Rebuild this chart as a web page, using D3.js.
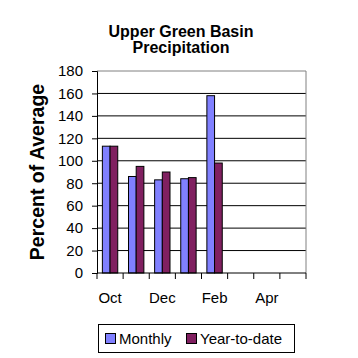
<!DOCTYPE html>
<html>
<head>
<meta charset="utf-8">
<script src="https://cdn.jsdelivr.net/npm/d3@7"></script>
<style>
  body { margin: 0; background: #fff; }
  svg { display: block; font-family: "Liberation Sans", Arial, sans-serif; }
</style>
</head>
<body>
<svg></svg>
<script>
const months = ['Oct', 'Nov', 'Dec', 'Jan', 'Feb', 'Mar', 'Apr', 'May']
const shownLabels = ['Oct', 'Dec', 'Feb', 'Apr']
const seriesNames = ['Monthly', 'Year-to-date']
const monthly = [113, 86, 83, 84, 158, null, null, null]
const ytd = [113, 95, 90, 85, 98, null, null, null]
const yTicks = [0, 20, 40, 60, 80, 100, 120, 140, 160, 180]
const colors = ['#8080ff', '#802060']

const w = 358
const h = 358
const plotLeft = 97
const plotRight = 306
const plotTop = 71
const plotBottom = 273

let svg = d3.select('svg').attr('width', w).attr('height', h)

let x0 = d3.scaleBand().domain(months).range([plotLeft, plotRight]).padding(0)
let x1 = d3.scaleBand().domain(seriesNames).range([0, x0.bandwidth()]).paddingInner(0).paddingOuter(0.7)
let y = d3.scaleLinear().domain([0, 180]).range([plotBottom, plotTop])

// gridlines
svg.append('g')
   .selectAll('line')
   .data(yTicks.filter(d => d > 0 && d < 180))
   .enter()
   .append('line')
   .attr('x1', plotLeft).attr('x2', plotRight)
   .attr('y1', d => y(d)).attr('y2', d => y(d))
   .attr('stroke', '#000')

// plot border (top and right)
svg.append('path')
   .attr('d', `M${plotLeft},${y(180)}H${plotRight}V${plotBottom}`)
   .attr('fill', 'none')
   .attr('stroke', '#808080')

// bars
let rows = months.map((m, i) => ({ month: m, values: [monthly[i], ytd[i]] }))
let groups = svg.append('g')
   .selectAll('g')
   .data(rows)
   .enter()
   .append('g')
   .attr('transform', d => 'translate(' + x0(d.month) + ',0)')

groups.selectAll('rect')
   .data(d => d.values.map((v, i) => ({ name: seriesNames[i], value: v, i: i })).filter(d => d.value != null))
   .enter()
   .append('rect')
   .attr('x', d => x1(d.name))
   .attr('width', x1.bandwidth())
   .attr('y', d => y(d.value))
   .attr('height', d => y(0) - y(d.value))
   .attr('fill', d => colors[d.i])
   .attr('stroke', '#000')
   .attr('stroke-width', 1)

// y axis
let yAxis = d3.axisLeft(y).tickValues(yTicks).tickSize(5).tickPadding(9)
let gy = svg.append('g')
   .attr('transform', 'translate(' + plotLeft + ',0)')
   .call(yAxis)
gy.select('.domain').attr('stroke', '#000')
gy.selectAll('text').style('font-size', '15px').attr('fill', '#000')

// x axis line and ticks at band edges
let edges = months.map(m => x0(m)).concat([x0.range()[1]])
let gx = svg.append('g')
gx.append('line')
  .attr('x1', plotLeft).attr('x2', plotRight)
  .attr('y1', plotBottom).attr('y2', plotBottom)
  .attr('stroke', '#000')
gx.selectAll('.tick')
  .data(edges)
  .enter()
  .append('line')
  .attr('x1', d => d).attr('x2', d => d)
  .attr('y1', plotBottom).attr('y2', plotBottom + 6)
  .attr('stroke', '#000')
gx.selectAll('text')
  .data(shownLabels)
  .enter()
  .append('text')
  .attr('x', d => x0(d) + x0.bandwidth() / 2)
  .attr('y', 303)
  .attr('text-anchor', 'middle')
  .style('font-size', '15px')
  .text(d => d)

// title
let title = svg.append('text')
   .attr('text-anchor', 'middle')
   .style('font-size', '16px')
   .style('font-weight', 'bold')
title.append('tspan').attr('x', 181).attr('y', 37).text('Upper Green Basin')
title.append('tspan').attr('x', 181).attr('y', 53).text('Precipitation')

// y label
svg.append('text')
   .attr('transform', 'translate(44,' + ((plotTop + plotBottom) / 2) + ') rotate(-90)')
   .attr('text-anchor', 'middle')
   .style('font-size', '19.5px')
   .style('font-weight', 'bold')
   .text('Percent of Average')

// legend
let legend = svg.append('g')
legend.append('rect')
   .attr('x', 98.5).attr('y', 324.5)
   .attr('width', 196).attr('height', 28)
   .attr('fill', '#fff')
   .attr('stroke', '#000')
let legendX = [105, 186]
seriesNames.forEach((name, i) => {
  legend.append('rect')
     .attr('x', legendX[i] + 0.5).attr('y', 333.5)
     .attr('width', 10).attr('height', 10)
     .attr('fill', colors[i])
     .attr('stroke', '#000')
  legend.append('text')
     .attr('x', legendX[i] + 14)
     .attr('y', 344)
     .style('font-size', '15px')
     .text(name)
})
</script>
</body>
</html>
